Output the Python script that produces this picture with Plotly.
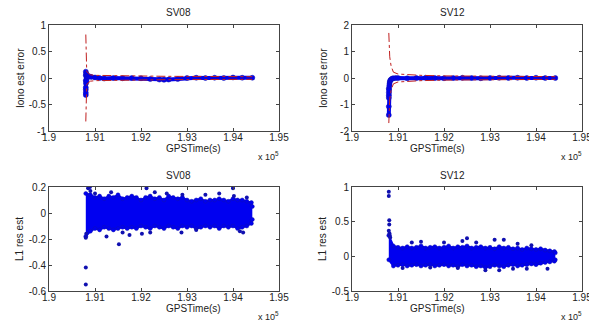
import plotly.graph_objects as go

# ---------------- data ----------------
# Top-left: iono estimate error, SV08
iono08_t = [190800, 190800, 190800, 190800, 190800, 190800, 190800, 190805, 190810, 190815,
            190820, 190830, 190850, 190880, 190920, 191000, 191100, 191200, 191400, 191600,
            191800, 192000, 192200, 192400, 192500, 192600, 192800, 193000, 193200, 193400,
            193600, 193800, 194000, 194200, 194420]
iono08_y = [-0.32, -0.28, -0.22, -0.18, -0.05, 0.05, 0.12, -0.10, 0.08, -0.05,
            0.06, 0.03, 0.02, 0.03, 0.02, 0.01, 0.0, -0.01, 0.0, -0.005,
            0.0, -0.005, -0.02, -0.03, -0.035, -0.03, -0.02, 0.0, 0.005, 0.0,
            0.005, 0.0, 0.01, 0.005, 0.005]
sig08_t = [190800, 190803, 190820, 190870, 190900, 191000, 191500, 192000, 192500, 193000, 193500, 194000, 194420]
sig08_up = [0.82, 0.30, 0.12, 0.08, 0.06, 0.05, 0.04, 0.035, 0.032, 0.03, 0.028, 0.026, 0.025]
sig08_lo = [-0.82, -0.30, -0.12, -0.08, -0.06, -0.05, -0.04, -0.035, -0.032, -0.03, -0.028, -0.026, -0.025]

# Top-right: iono estimate error, SV12
iono12_t = [190800, 190800, 190800, 190800, 190800, 190800, 190805, 190810, 190815, 190820,
            190830, 190840, 190860, 190880, 190900, 190950, 191000, 191200, 191400, 191600,
            191800, 192000, 192200, 192400, 192600, 192800, 193000, 193200, 193400, 193600,
            193800, 194000, 194200, 194420]
iono12_y = [-1.40, -1.08, -0.75, -0.65, -0.55, -0.40, -0.45, -0.30, -0.22, -0.15,
            -0.10, -0.07, -0.04, -0.02, -0.01, 0.0, 0.0, -0.01, 0.0, 0.01,
            0.0, -0.01, 0.0, 0.01, 0.0, -0.01, 0.0, 0.01, 0.0, 0.01,
            0.0, 0.01, 0.0, 0.0]
sig12_t = [190800, 190820, 190850, 190880, 190900, 191000, 191300, 191500, 192000, 192500, 193000, 193500, 194000, 194420]
sig12_up = [1.70, 0.80, 0.45, 0.30, 0.22, 0.15, 0.11, 0.10, 0.08, 0.07, 0.06, 0.055, 0.05, 0.05]
sig12_lo = [-1.70, -0.80, -0.45, -0.30, -0.22, -0.15, -0.11, -0.10, -0.08, -0.07, -0.06, -0.055, -0.05, -0.05]

# Bottom: L1 residual estimate bands (dense scatter envelope) + outliers
band_t = [190800 + 100 * i for i in range(37)] + [194420]
res08_up = [0.15, 0.14, 0.12, 0.13, 0.11, 0.13, 0.12, 0.14, 0.11, 0.12, 0.13, 0.12, 0.10, 0.12,
            0.13, 0.11, 0.12, 0.10, 0.13, 0.12, 0.11, 0.12, 0.10, 0.09, 0.10, 0.11, 0.09, 0.10,
            0.10, 0.11, 0.10, 0.09, 0.11, 0.10, 0.10, 0.09, 0.08, 0.05]
res08_lo = [-0.18, -0.14, -0.12, -0.13, -0.11, -0.12, -0.13, -0.12, -0.11, -0.12, -0.11, -0.12,
            -0.10, -0.11, -0.12, -0.10, -0.11, -0.12, -0.10, -0.11, -0.12, -0.10, -0.11, -0.10,
            -0.12, -0.11, -0.10, -0.11, -0.10, -0.12, -0.10, -0.11, -0.10, -0.12, -0.11, -0.10,
            -0.08, -0.05]
out08_t = [190800, 190800, 190800, 190810, 190850, 190890, 190900, 191000, 191250, 191350,
           191520, 191600, 191750, 192020, 192120, 192200, 192300, 192560, 192880, 192900,
           193200, 193400, 193700, 194000, 194020, 194150, 194220, 194300]
out08_y = [-0.42, -0.55, -0.19, -0.16, 0.19, 0.20, 0.17, 0.15, -0.18, 0.16,
           -0.24, -0.15, -0.17, -0.16, 0.19, -0.15, 0.16, 0.15, -0.15, 0.14,
           -0.13, 0.14, 0.15, 0.19, 0.13, -0.14, -0.15, 0.12]

res12_up = [0.30, 0.15, 0.13, 0.12, 0.14, 0.12, 0.13, 0.15, 0.12, 0.13, 0.14, 0.12, 0.13, 0.15,
            0.12, 0.14, 0.13, 0.15, 0.12, 0.13, 0.14, 0.12, 0.13, 0.11, 0.14, 0.12, 0.13, 0.11,
            0.12, 0.10, 0.12, 0.11, 0.10, 0.11, 0.09, 0.08, 0.07, 0.05]
res12_lo = [-0.05, -0.14, -0.13, -0.12, -0.14, -0.13, -0.12, -0.14, -0.13, -0.12, -0.14, -0.13,
            -0.12, -0.14, -0.13, -0.15, -0.12, -0.14, -0.13, -0.15, -0.14, -0.16, -0.15, -0.13,
            -0.14, -0.15, -0.13, -0.12, -0.14, -0.13, -0.12, -0.11, -0.12, -0.10, -0.09, -0.08,
            -0.07, -0.05]
out12_t = [190800, 190800, 190810, 190810, 190800, 190815, 190820, 190830, 191300, 191500,
           192000, 192400, 192500, 192700, 193100, 193300, 193600, 193900, 194250, 192900,
           193200, 193500, 191100, 191700, 192300, 193800]
out12_y = [0.93, 0.87, 0.52, 0.46, 0.37, 0.33, 0.30, 0.27, 0.20, 0.21,
           0.20, 0.22, 0.26, 0.20, 0.24, 0.24, 0.18, 0.16, -0.18, -0.20,
           -0.20, -0.18, -0.17, -0.16, -0.17, -0.18]

x_ticks = [190000, 191000, 192000, 193000, 194000, 195000]
x_ticktext = ["1.9", "1.91", "1.92", "1.93", "1.94", "1.95"]
titles = ["SV08", "SV12", "SV08", "SV12"]
ylabels = ["Iono est error", "Iono est error", "L1 res est", "L1 res est"]
y_ticks = [[-1, -0.5, 0, 0.5, 1], [-2, -1, 0, 1, 2], [-0.6, -0.4, -0.2, 0, 0.2], [-0.5, 0, 0.5, 1]]
y_ticktext = [["-1", "-0.5", "0", "0.5", "1"], ["-2", "-1", "0", "1", "2"],
              ["-0.6", "-0.4", "-0.2", "0", "0.2"], ["-0.5", "0", "0.5", "1"]]
y_ranges = [[-1, 1], [-2, 2], [-0.6, 0.2], [-0.5, 1]]

# ---------------- styling / layout ----------------
OFF = 8                      # page body margin in the viewer
W, H = 597 - OFF, 323 - OFF
BLUE = "#0000f0"
NAVY = "#1010b0"
RED = "#c02020"
FONT = "Liberation Sans, Arial, sans-serif"
boxes_page = [(49, 279, 25, 131), (352, 582, 25, 131), (49, 279, 187, 291), (352, 582, 187, 291)]
boxes = [(l - OFF, r - OFF, t - OFF, b - OFF) for (l, r, t, b) in boxes_page]

fig = go.Figure()


def ax(i):
    return ("x" if i == 0 else f"x{i+1}", "y" if i == 0 else f"y{i+1}")


def add_iono(i, t, y, st, su, sl):
    xa, ya = ax(i)
    fig.add_trace(go.Scatter(x=t, y=y, mode="lines+markers", xaxis=xa, yaxis=ya,
                             line=dict(color=BLUE, width=4),
                             marker=dict(color=BLUE, size=5, line=dict(color=NAVY, width=0.5))))
    for s in (su, sl):
        fig.add_trace(go.Scatter(x=st, y=s, mode="lines", xaxis=xa, yaxis=ya,
                                 line=dict(color=RED, width=1, dash="dashdot")))


def add_res(i, up, lo, ot, oy):
    xa, ya = ax(i)
    fig.add_trace(go.Scatter(x=band_t, y=lo, mode="lines+markers", xaxis=xa, yaxis=ya,
                             line=dict(color=BLUE, width=2),
                             marker=dict(color=BLUE, size=4, line=dict(color=NAVY, width=0.5))))
    fig.add_trace(go.Scatter(x=band_t, y=up, mode="lines+markers", xaxis=xa, yaxis=ya,
                             fill="tonexty", fillcolor=BLUE,
                             line=dict(color=BLUE, width=2),
                             marker=dict(color=BLUE, size=4, line=dict(color=NAVY, width=0.5))))
    fig.add_trace(go.Scatter(x=ot, y=oy, mode="markers", xaxis=xa, yaxis=ya,
                             marker=dict(color=NAVY, size=4, line=dict(color=NAVY, width=0))))


add_iono(0, iono08_t, iono08_y, sig08_t, sig08_up, sig08_lo)
add_iono(1, iono12_t, iono12_y, sig12_t, sig12_up, sig12_lo)
add_res(2, res08_up, res08_lo, out08_t, out08_y)
add_res(3, res12_up, res12_lo, out12_t, out12_y)

layout = dict(width=W, height=H, autosize=False, margin=dict(l=0, r=0, t=0, b=0, pad=0),
              showlegend=False, paper_bgcolor="white", plot_bgcolor="white",
              font=dict(family=FONT, size=10, color="#222"))
annotations = []
for i, (l, r, t, b) in enumerate(boxes):
    xn = "xaxis" if i == 0 else f"xaxis{i+1}"
    yn = "yaxis" if i == 0 else f"yaxis{i+1}"
    xa, ya = ax(i)
    layout[xn] = dict(domain=[l / W, r / W], anchor=ya, range=[190000, 195000], automargin=False,
                      tickvals=x_ticks, ticktext=x_ticktext, ticks="inside", ticklen=3,
                      ticklabelstandoff=-3,
                      showline=True, linecolor="#444", linewidth=1, mirror="ticks",
                      tickcolor="#444", showgrid=False, zeroline=False,
                      tickfont=dict(size=10, color="#222"))
    layout[yn] = dict(domain=[1 - b / H, 1 - t / H], anchor=xa, range=y_ranges[i], automargin=False,
                      tickvals=y_ticks[i], ticktext=y_ticktext[i], ticks="inside", ticklen=3,
                      showline=True, linecolor="#444", linewidth=1, mirror="ticks",
                      tickcolor="#444", showgrid=False, zeroline=False,
                      tickfont=dict(size=10, color="#222"))
    cx = (l + r) / 2
    annotations.append(dict(text=titles[i], x=cx / W, y=1 - (t - 12) / H, xref="paper", yref="paper",
                            showarrow=False, font=dict(size=10, color="#222"), yanchor="middle"))
    annotations.append(dict(text="GPSTime(s)", x=cx / W, y=1 - (b + 17) / H, xref="paper", yref="paper",
                            showarrow=False, font=dict(size=10, color="#222"), yanchor="middle"))
    annotations.append(dict(text="x 10<sup>5</sup>", x=(r + 2) / W, y=1 - (b + 25) / H, xref="paper",
                            yref="paper", showarrow=False, xanchor="right",
                            font=dict(size=9, color="#222"), yanchor="middle"))
    annotations.append(dict(text=ylabels[i], x=(l - 29) / W, y=1 - ((t + b) / 2) / H, xref="paper",
                            yref="paper", showarrow=False, textangle=-90,
                            font=dict(size=10, color="#222"), xanchor="center", yanchor="middle"))
layout["annotations"] = annotations
fig.update_layout(**layout)
fig.write_html("out.html")
